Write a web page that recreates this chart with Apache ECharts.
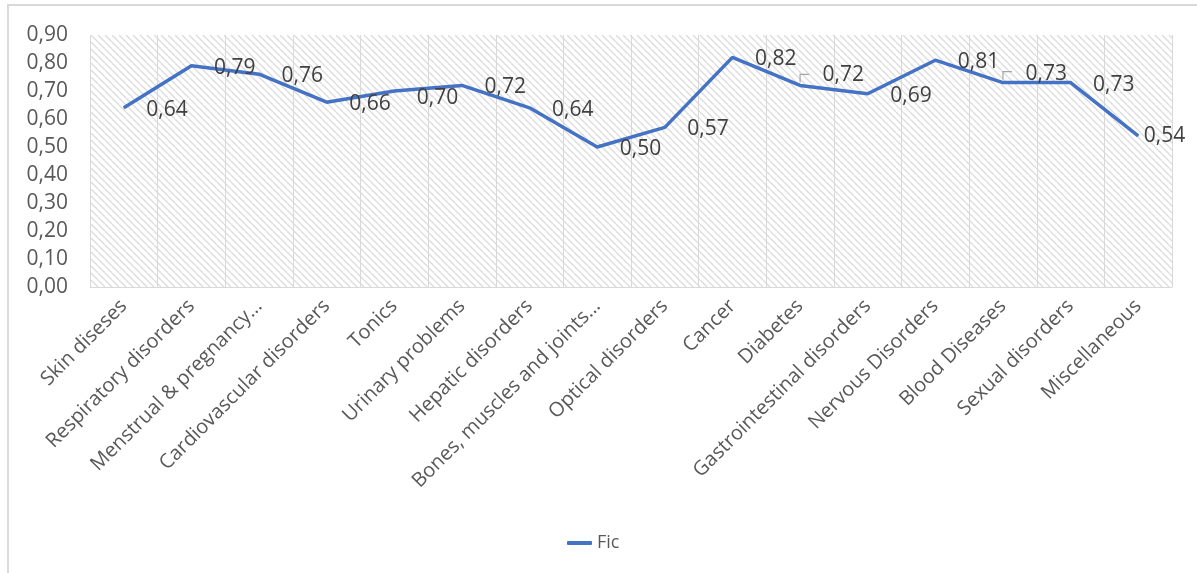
<!DOCTYPE html>
<html>
<head>
<meta charset="utf-8">
<script src="https://cdn.jsdelivr.net/npm/echarts@6/dist/echarts.min.js"></script>
<style>
  html, body { margin: 0; padding: 0; background: #ffffff; }
  #chart { width: 1197px; height: 573px; }
</style>
</head>
<body>
<div id="chart"></div>
<script>
// Fidelity level (Fic) per disease category
const categories = [
  'Skin diseses', 'Respiratory disorders', 'Menstrual & pregnancy…',
  'Cardiovascular disorders', 'Tonics', 'Urinary problems', 'Hepatic disorders',
  'Bones, muscles and joints…', 'Optical disorders', 'Cancer', 'Diabetes',
  'Gastrointestinal disorders', 'Nervous Disorders', 'Blood Diseases',
  'Sexual disorders', 'Miscellaneous'
];
const ficValues = [0.64, 0.79, 0.76, 0.66, 0.70, 0.72, 0.64, 0.50, 0.57, 0.82, 0.72, 0.69, 0.81, 0.73, 0.73, 0.54];
const seriesName = 'Fic';
const yTicks = { min: 0, max: 0.9, interval: 0.1 };

const FONT = '"Open Sans", "Liberation Sans", sans-serif';
const TEXT = '#595959';
const GRIDLINE = '#d9d9d9';
const LINE_BLUE = '#4472C4';

// Light downward-diagonal hatch used as the plot-area fill
function hatchTile() {
  const s = 7;
  const c = document.createElement('canvas');
  c.width = s; c.height = s;
  const g = c.getContext('2d');
  g.fillStyle = '#ffffff';
  g.fillRect(0, 0, s, s);
  g.strokeStyle = '#dcdcdc';
  g.lineWidth = 1.3;
  for (const o of [-s, 0, s]) {
    g.beginPath();
    g.moveTo(o, 0);
    g.lineTo(o + s, s);
    g.stroke();
  }
  return c;
}

const fmt = v => v.toFixed(2).replace('.', ',');

// Per-label nudges (pixels) so labels clear the line; raised ones get a leader
const labelNudge = { 4: [0, 7], 10: [0, -10], 13: [0, -9], 15: [-17, 0] };
const leaderFor = [10, 13];

const seriesData = ficValues.map((v, i) => {
  const item = { value: v };
  if (labelNudge[i]) item.label = { offset: labelNudge[i] };
  return item;
});

const chart = echarts.init(document.getElementById('chart'), null, { renderer: 'canvas' });
chart.setOption({
  animation: false,
  backgroundColor: '#ffffff',
  textStyle: { fontFamily: FONT },
  graphic: [{
    id: 'frame',
    type: 'rect',
    shape: { x: 8, y: 5, width: 1400, height: 800 },
    style: { fill: 'none', stroke: GRIDLINE, lineWidth: 2 },
    silent: true, z: -1
  }],
  grid: {
    left: 90, right: 25, top: 35, bottom: 286,
    show: true, borderWidth: 0,
    backgroundColor: { image: hatchTile(), repeat: 'repeat' }
  },
  legend: {
    left: 562, top: 529,
    icon: 'roundRect', itemWidth: 25, itemHeight: 4, itemGap: 6,
    textStyle: { color: TEXT, fontSize: 18, fontFamily: FONT },
    data: [seriesName]
  },
  xAxis: {
    type: 'category',
    data: categories,
    boundaryGap: true,
    axisLine: { show: true, lineStyle: { color: GRIDLINE, width: 1 } },
    axisTick: { show: false },
    splitLine: { show: true, lineStyle: { color: GRIDLINE, width: 1 } },
    axisLabel: {
      interval: 0, rotate: 45, margin: 16,
      color: TEXT, fontSize: 20, fontFamily: FONT
    }
  },
  yAxis: {
    type: 'value',
    min: yTicks.min, max: yTicks.max, interval: yTicks.interval,
    axisLine: { show: false },
    axisTick: { show: false },
    splitLine: { show: false },
    axisLabel: {
      margin: 22, color: TEXT, fontSize: 21, fontFamily: FONT,
      formatter: fmt
    }
  },
  series: [{
    name: seriesName,
    type: 'line',
    data: seriesData,
    symbol: 'circle',
    symbolSize: 1,
    showSymbol: true,
    itemStyle: { color: LINE_BLUE },
    lineStyle: { color: LINE_BLUE, width: 3.5 },
    label: {
      show: true, position: 'right', distance: 22, offset: [0, 2],
      color: '#404040', fontSize: 21, fontFamily: FONT,
      formatter: p => fmt(p.value)
    }
  }]
});

// Small leader lines from the raised labels down to their points
const leaders = leaderFor.map(i => {
  const [px, py] = chart.convertToPixel({ seriesIndex: 0 }, [i, ficValues[i]]);
  return {
    type: 'polyline',
    shape: { points: [[px, py - 3], [px, py - 11], [px + 9, py - 11]] },
    style: { stroke: '#a6a6a6', lineWidth: 1.2, fill: 'none' },
    silent: true, z: 10
  };
});
chart.setOption({ graphic: leaders.map((g, k) => Object.assign({ id: 'leader' + k }, g)) });
</script>
</body>
</html>
